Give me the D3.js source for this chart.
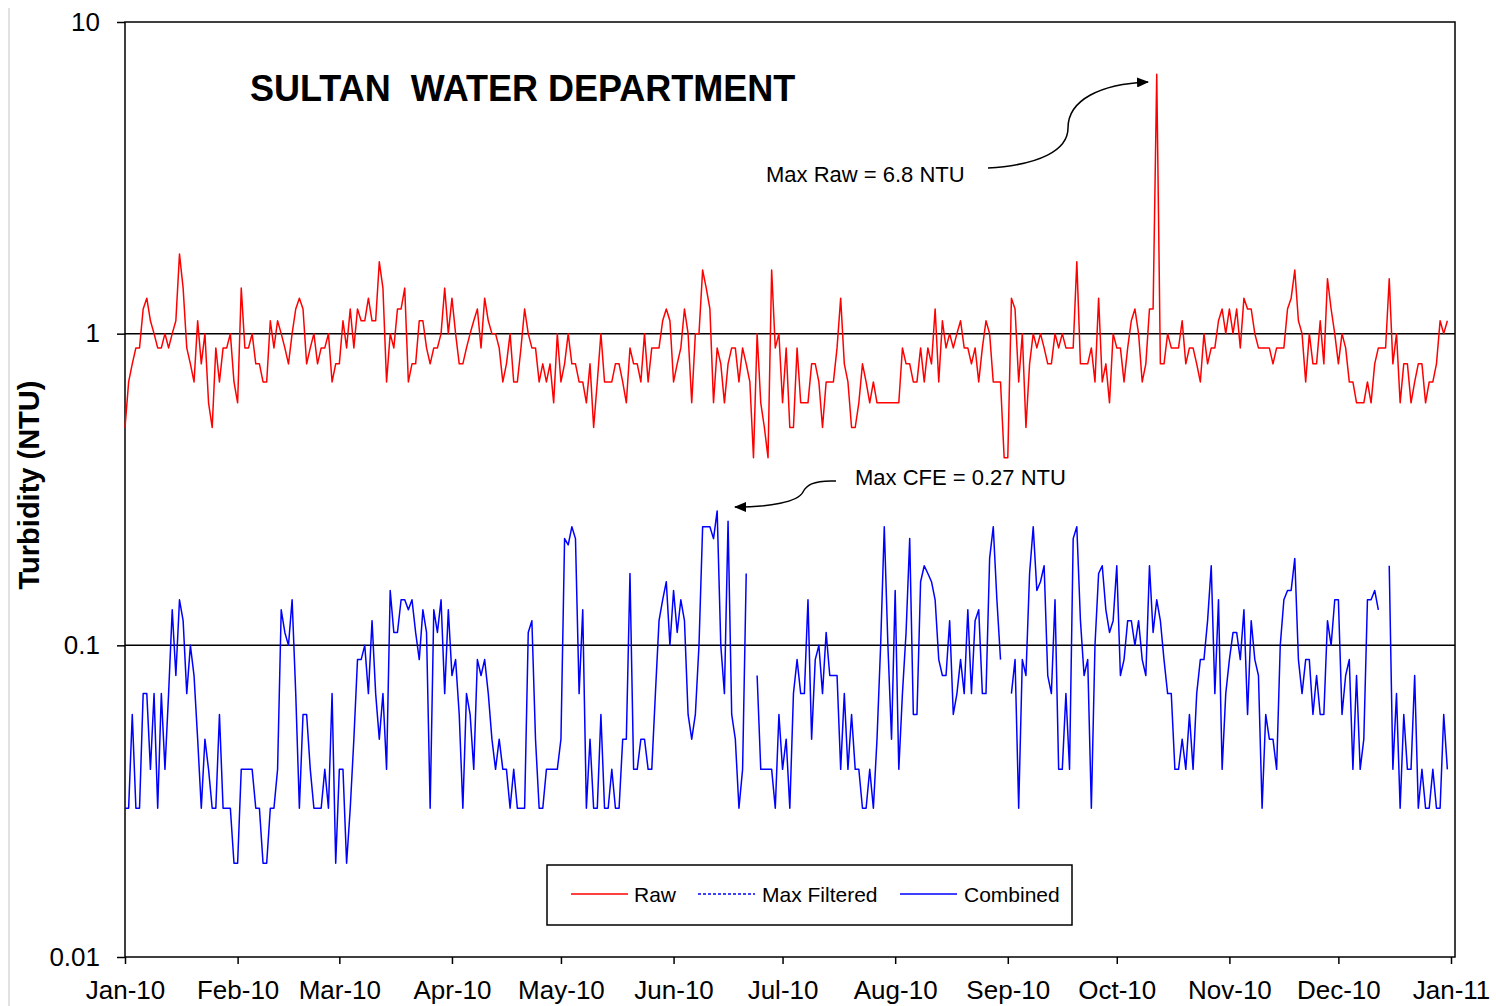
<!DOCTYPE html>
<meta charset="utf-8">
<script src="https://d3js.org/d3.v7.min.js"></script>
<style>
    body { margin: 0; background: #fff; }
    text { font-family: "Liberation Sans", Arial, sans-serif; fill: #000; }
    .axis text { font-size: 26px; }
    .axis line { stroke: #000; stroke-width: 1.5px; }
    .axis path { display: none; }
</style>
<div id="chart"></div>
<script>
// daily values, 1 Jan 2010 .. 31 Dec 2010
const startDate = new Date(2010, 0, 1);

const rawNtu = [
    0.5,0.7,0.8,0.9,0.9,1.2,1.3,1.1,1.0,0.9,
    0.9,1.0,0.9,1.0,1.1,1.8,1.4,0.9,0.8,0.7,
    1.1,0.8,1.0,0.6,0.5,0.9,0.7,0.9,0.9,1.0,
    0.7,0.6,1.4,0.9,0.9,1.0,0.8,0.8,0.7,0.7,
    1.1,0.9,1.1,1.0,0.9,0.8,1.0,1.2,1.3,1.2,
    0.8,0.9,1.0,0.8,0.9,0.9,1.0,0.7,0.8,0.8,
    1.1,0.9,1.2,0.9,1.2,1.1,1.1,1.3,1.1,1.1,
    1.7,1.4,0.7,1.0,0.9,1.2,1.2,1.4,0.7,0.8,
    0.8,1.1,1.1,0.9,0.8,0.9,0.9,1.0,1.4,1.0,
    1.3,1.0,0.8,0.8,0.9,1.0,1.1,1.2,0.9,1.3,
    1.1,1.0,1.0,0.9,0.7,0.8,1.0,0.7,0.7,0.9,
    1.2,1.0,0.9,0.9,0.7,0.8,0.7,0.8,0.6,1.0,
    0.7,0.8,1.0,0.8,0.8,0.7,0.7,0.6,0.8,0.5,
    0.7,1.0,0.7,0.7,0.7,0.8,0.8,0.7,0.6,0.9,
    0.8,0.8,0.7,1.0,0.7,0.9,0.9,0.9,1.1,1.2,
    1.1,0.7,0.8,0.9,1.2,1.0,0.6,1.0,1.0,1.6,
    1.4,1.2,0.6,0.9,0.8,0.6,0.8,0.9,0.9,0.7,
    0.9,0.8,0.7,0.4,1.0,0.6,0.5,0.4,1.6,0.9,
    1.0,0.6,0.9,0.5,0.5,0.9,0.6,0.6,0.6,0.8,
    0.8,0.7,0.5,0.7,0.7,0.7,0.9,1.3,0.8,0.7,
    0.5,0.5,0.6,0.8,0.7,0.6,0.7,0.6,0.6,0.6,
    0.6,0.6,0.6,0.6,0.9,0.8,0.8,0.7,0.7,0.9,
    0.7,0.9,0.8,1.2,0.7,1.1,0.9,1.0,0.9,1.0,
    1.1,0.9,0.9,0.8,0.9,0.7,0.9,1.1,1.0,0.7,
    0.7,0.7,0.4,0.4,1.3,1.2,0.7,1.0,0.5,0.8,
    1.0,0.9,1.0,0.9,0.8,0.8,1.0,0.9,1.0,0.9,
    0.9,0.9,1.7,0.8,0.8,0.8,0.9,0.7,1.3,0.7,
    0.8,0.6,1.0,0.9,0.9,0.7,0.9,1.1,1.2,1.0,
    0.7,0.8,1.2,1.2,6.8,0.8,0.8,1.0,0.9,0.9,
    0.9,1.1,0.8,0.9,0.9,0.8,0.7,1.0,0.8,0.9,
    0.9,1.1,1.2,1.0,1.2,1.0,1.2,0.9,1.3,1.2,
    1.2,1.0,0.9,0.9,0.9,0.9,0.8,0.9,0.9,0.9,
    1.2,1.3,1.6,1.1,1.0,0.7,1.0,0.8,0.8,1.1,
    0.8,1.5,1.2,1.0,0.8,1.0,0.9,0.7,0.7,0.6,
    0.6,0.6,0.7,0.6,0.8,0.9,0.9,0.9,1.5,0.8,
    1.0,0.6,0.8,0.8,0.6,0.7,0.8,0.8,0.6,0.7,
    0.7,0.8,1.1,1.0,1.1
];

// null = no reading
const combinedNtu = [
    0.03,0.03,0.06,0.03,0.03,0.07,0.07,0.04,0.07,0.03,
    0.07,0.04,0.07,0.13,0.08,0.14,0.12,0.07,0.10,0.08,
    0.05,0.03,0.05,0.04,0.03,0.03,0.06,0.03,0.03,0.03,
    0.02,0.02,0.04,0.04,0.04,0.04,0.03,0.03,0.02,0.02,
    0.03,0.03,0.04,0.13,0.11,0.10,0.14,0.07,0.03,0.06,
    0.06,0.04,0.03,0.03,0.03,0.04,0.03,0.07,0.02,0.04,
    0.04,0.02,0.03,0.05,0.09,0.09,0.10,0.07,0.12,0.07,
    0.05,0.07,0.04,0.15,0.11,0.11,0.14,0.14,0.13,0.14,
    0.11,0.09,0.13,0.11,0.03,0.13,0.11,0.14,0.07,0.13,
    0.08,0.09,0.06,0.03,0.07,0.06,0.04,0.09,0.08,0.09,
    0.07,0.05,0.04,0.05,0.04,0.04,0.03,0.04,0.03,0.03,
    0.03,0.11,0.12,0.05,0.03,0.03,0.04,0.04,0.04,0.04,
    0.05,0.22,0.21,0.24,0.22,0.07,0.13,0.03,0.05,0.03,
    0.03,0.06,0.03,0.03,0.04,0.03,0.03,0.05,0.05,0.17,
    0.04,0.04,0.05,0.05,0.04,0.04,0.07,0.12,0.14,0.16,
    0.10,0.15,0.11,0.14,0.12,0.06,0.05,0.06,0.10,0.24,
    0.24,0.24,0.22,0.27,0.10,0.07,0.25,0.06,0.05,0.03,
    0.04,0.17,null,null,0.08,0.04,0.04,0.04,0.04,0.03,
    0.06,0.04,0.05,0.03,0.07,0.09,0.07,0.07,0.14,0.05,
    0.09,0.10,0.07,0.11,0.08,0.08,0.08,0.04,0.07,0.04,
    0.06,0.04,0.04,0.03,0.03,0.04,0.03,0.05,0.10,0.24,
    0.10,0.05,0.15,0.04,0.07,0.11,0.22,0.06,0.06,0.16,
    0.18,0.17,0.16,0.14,0.09,0.08,0.08,0.12,0.06,0.07,
    0.09,0.07,0.13,0.07,0.12,0.13,0.07,0.07,0.19,0.24,
    0.14,0.09,null,null,0.07,0.09,0.03,0.09,0.08,0.17,
    0.24,0.15,0.16,0.18,0.08,0.07,0.14,0.04,0.04,0.07,
    0.04,0.22,0.24,0.12,0.08,0.09,0.03,0.10,0.17,0.18,
    0.13,0.11,0.12,0.18,0.08,0.09,0.12,0.12,0.10,0.12,
    0.09,0.08,0.18,0.11,0.14,0.12,0.09,0.07,0.07,0.04,
    0.04,0.05,0.04,0.06,0.04,0.07,0.09,0.09,0.12,0.18,
    0.07,0.14,0.04,0.07,0.09,0.11,0.11,0.09,0.13,0.06,
    0.12,0.09,0.08,0.03,0.06,0.05,0.05,0.04,0.10,0.14,
    0.15,0.15,0.19,0.09,0.07,0.09,0.09,0.06,0.08,0.06,
    0.06,0.12,0.10,0.14,0.14,0.06,0.08,0.09,0.04,0.08,
    0.04,0.05,0.14,0.14,0.15,0.13,null,null,0.18,0.04,
    0.07,0.03,0.06,0.04,0.04,0.08,0.03,0.04,0.03,0.03,
    0.04,0.03,0.03,0.06,0.04
];

// no max filtered readings are plotted, it only appears in the legend
const maxFilteredNtu = [];

const yTicks = [0.01, 0.1, 1, 10];
const yTickLabels = ["0.01", "0.1", "1", "10"];
const gridValues = [0.1, 1];
const monthTicks = d3.timeMonth.range(new Date(2010, 0, 1), new Date(2011, 0, 2));

const legendItems = [
    {name: "Raw", color: "#ff0000", dash: null, lineX: 571, textX: 634},
    {name: "Max Filtered", color: "#0000ff", dash: "3,2", lineX: 698, textX: 762},
    {name: "Combined", color: "#0000ff", dash: null, lineX: 900, textX: 964}
];

const width = 1496, height = 1006;
const plot = {left: 125, right: 1455, top: 22, bottom: 957};

const svg = d3.select("#chart").append("svg")
    .attr("width", width)
    .attr("height", height);

svg.append("defs").append("marker")
    .attr("id", "arrow")
    .attr("viewBox", "0 0 12 10")
    .attr("refX", 11)
    .attr("refY", 5)
    .attr("markerWidth", 12)
    .attr("markerHeight", 10)
    .attr("markerUnits", "userSpaceOnUse")
    .attr("orient", "auto")
    .append("path")
    .attr("d", "M0,0 L12,5 L0,10 z")
    .attr("fill", "#000");

// faint page edge on the left
svg.append("line")
    .attr("x1", 9).attr("x2", 9)
    .attr("y1", 8).attr("y2", height)
    .attr("stroke", "#d8d8d8")
    .attr("stroke-width", 1.5);

let x = d3.scaleTime()
    .domain([new Date(2010, 0, 1), new Date(2011, 0, 1)])
    .range([plot.left, 1451]);

let y = d3.scaleLog()
    .domain([0.01, 10])
    .range([plot.bottom, plot.top]);

function dayDate(i) {
    return d3.timeDay.offset(startDate, i);
}

// plot frame
svg.append("rect")
    .attr("x", plot.left)
    .attr("y", plot.top)
    .attr("width", plot.right - plot.left)
    .attr("height", plot.bottom - plot.top)
    .attr("fill", "none")
    .attr("stroke", "#000")
    .attr("stroke-width", 1.5);

svg.selectAll(".grid")
    .data(gridValues)
    .enter()
    .append("line")
    .attr("class", "grid")
    .attr("x1", plot.left)
    .attr("x2", plot.right)
    .attr("y1", d => y(d))
    .attr("y2", d => y(d))
    .attr("stroke", "#000")
    .attr("stroke-width", 1.5);

// axes
svg.append("g")
    .attr("class", "axis")
    .attr("transform", "translate(" + plot.left + ",0)")
    .call(d3.axisLeft(y)
        .tickValues(yTicks)
        .tickFormat((d, i) => yTickLabels[i])
        .tickSize(8)
        .tickPadding(17));

svg.append("g")
    .attr("class", "axis")
    .attr("transform", "translate(0," + plot.bottom + ")")
    .call(d3.axisBottom(x)
        .tickValues(monthTicks)
        .tickFormat(d3.timeFormat("%b-%y"))
        .tickSize(7)
        .tickPadding(17));

// series
let line = d3.line()
    .defined(d => d != null)
    .x((d, i) => x(dayDate(i)))
    .y(d => y(d));

svg.append("path")
    .datum(rawNtu)
    .attr("d", line)
    .attr("fill", "none")
    .attr("stroke", "#ff0000")
    .attr("stroke-width", 1.5)
    .attr("stroke-linejoin", "round");

svg.append("path")
    .datum(maxFilteredNtu)
    .attr("d", line)
    .attr("fill", "none")
    .attr("stroke", "#0000ff")
    .attr("stroke-dasharray", "3,2");

svg.append("path")
    .datum(combinedNtu)
    .attr("d", line)
    .attr("fill", "none")
    .attr("stroke", "#0000ff")
    .attr("stroke-width", 1.5)
    .attr("stroke-linejoin", "round");

// titles
svg.append("text")
    .attr("x", 250)
    .attr("y", 101)
    .style("font-size", "36px")
    .style("font-weight", "bold")
    .attr("xml:space", "preserve")
    .text("SULTAN  WATER DEPARTMENT");

svg.append("text")
    .attr("transform", "translate(39,485) rotate(-90)")
    .attr("text-anchor", "middle")
    .style("font-size", "29px")
    .style("font-weight", "bold")
    .text("Turbidity (NTU)");

// annotations
svg.append("text")
    .attr("x", 766)
    .attr("y", 182)
    .style("font-size", "22px")
    .text("Max Raw = 6.8 NTU");

svg.append("path")
    .attr("d", "M988,168 C1040,165 1068,150 1068,128 C1068,100 1100,84 1148,82")
    .attr("fill", "none")
    .attr("stroke", "#000")
    .attr("stroke-width", 1.5)
    .attr("marker-end", "url(#arrow)");

svg.append("text")
    .attr("x", 855)
    .attr("y", 485)
    .style("font-size", "22px")
    .text("Max CFE = 0.27 NTU");

svg.append("path")
    .attr("d", "M836,481 C812,480 806,486 803,492 C798,502 770,507 735,507")
    .attr("fill", "none")
    .attr("stroke", "#000")
    .attr("stroke-width", 1.5)
    .attr("marker-end", "url(#arrow)");

// legend
let legend = svg.append("g");

legend.append("rect")
    .attr("x", 547)
    .attr("y", 865)
    .attr("width", 525)
    .attr("height", 60)
    .attr("fill", "#fff")
    .attr("stroke", "#000")
    .attr("stroke-width", 1.5);

let items = legend.selectAll(".legend-item")
    .data(legendItems)
    .enter()
    .append("g")
    .attr("class", "legend-item");

items.append("line")
    .attr("x1", d => d.lineX)
    .attr("x2", d => d.lineX + 57)
    .attr("y1", 894)
    .attr("y2", 894)
    .attr("stroke", d => d.color)
    .attr("stroke-width", 1.5)
    .attr("stroke-dasharray", d => d.dash);

items.append("text")
    .attr("x", d => d.textX)
    .attr("y", 902)
    .style("font-size", "21px")
    .text(d => d.name);
</script>
